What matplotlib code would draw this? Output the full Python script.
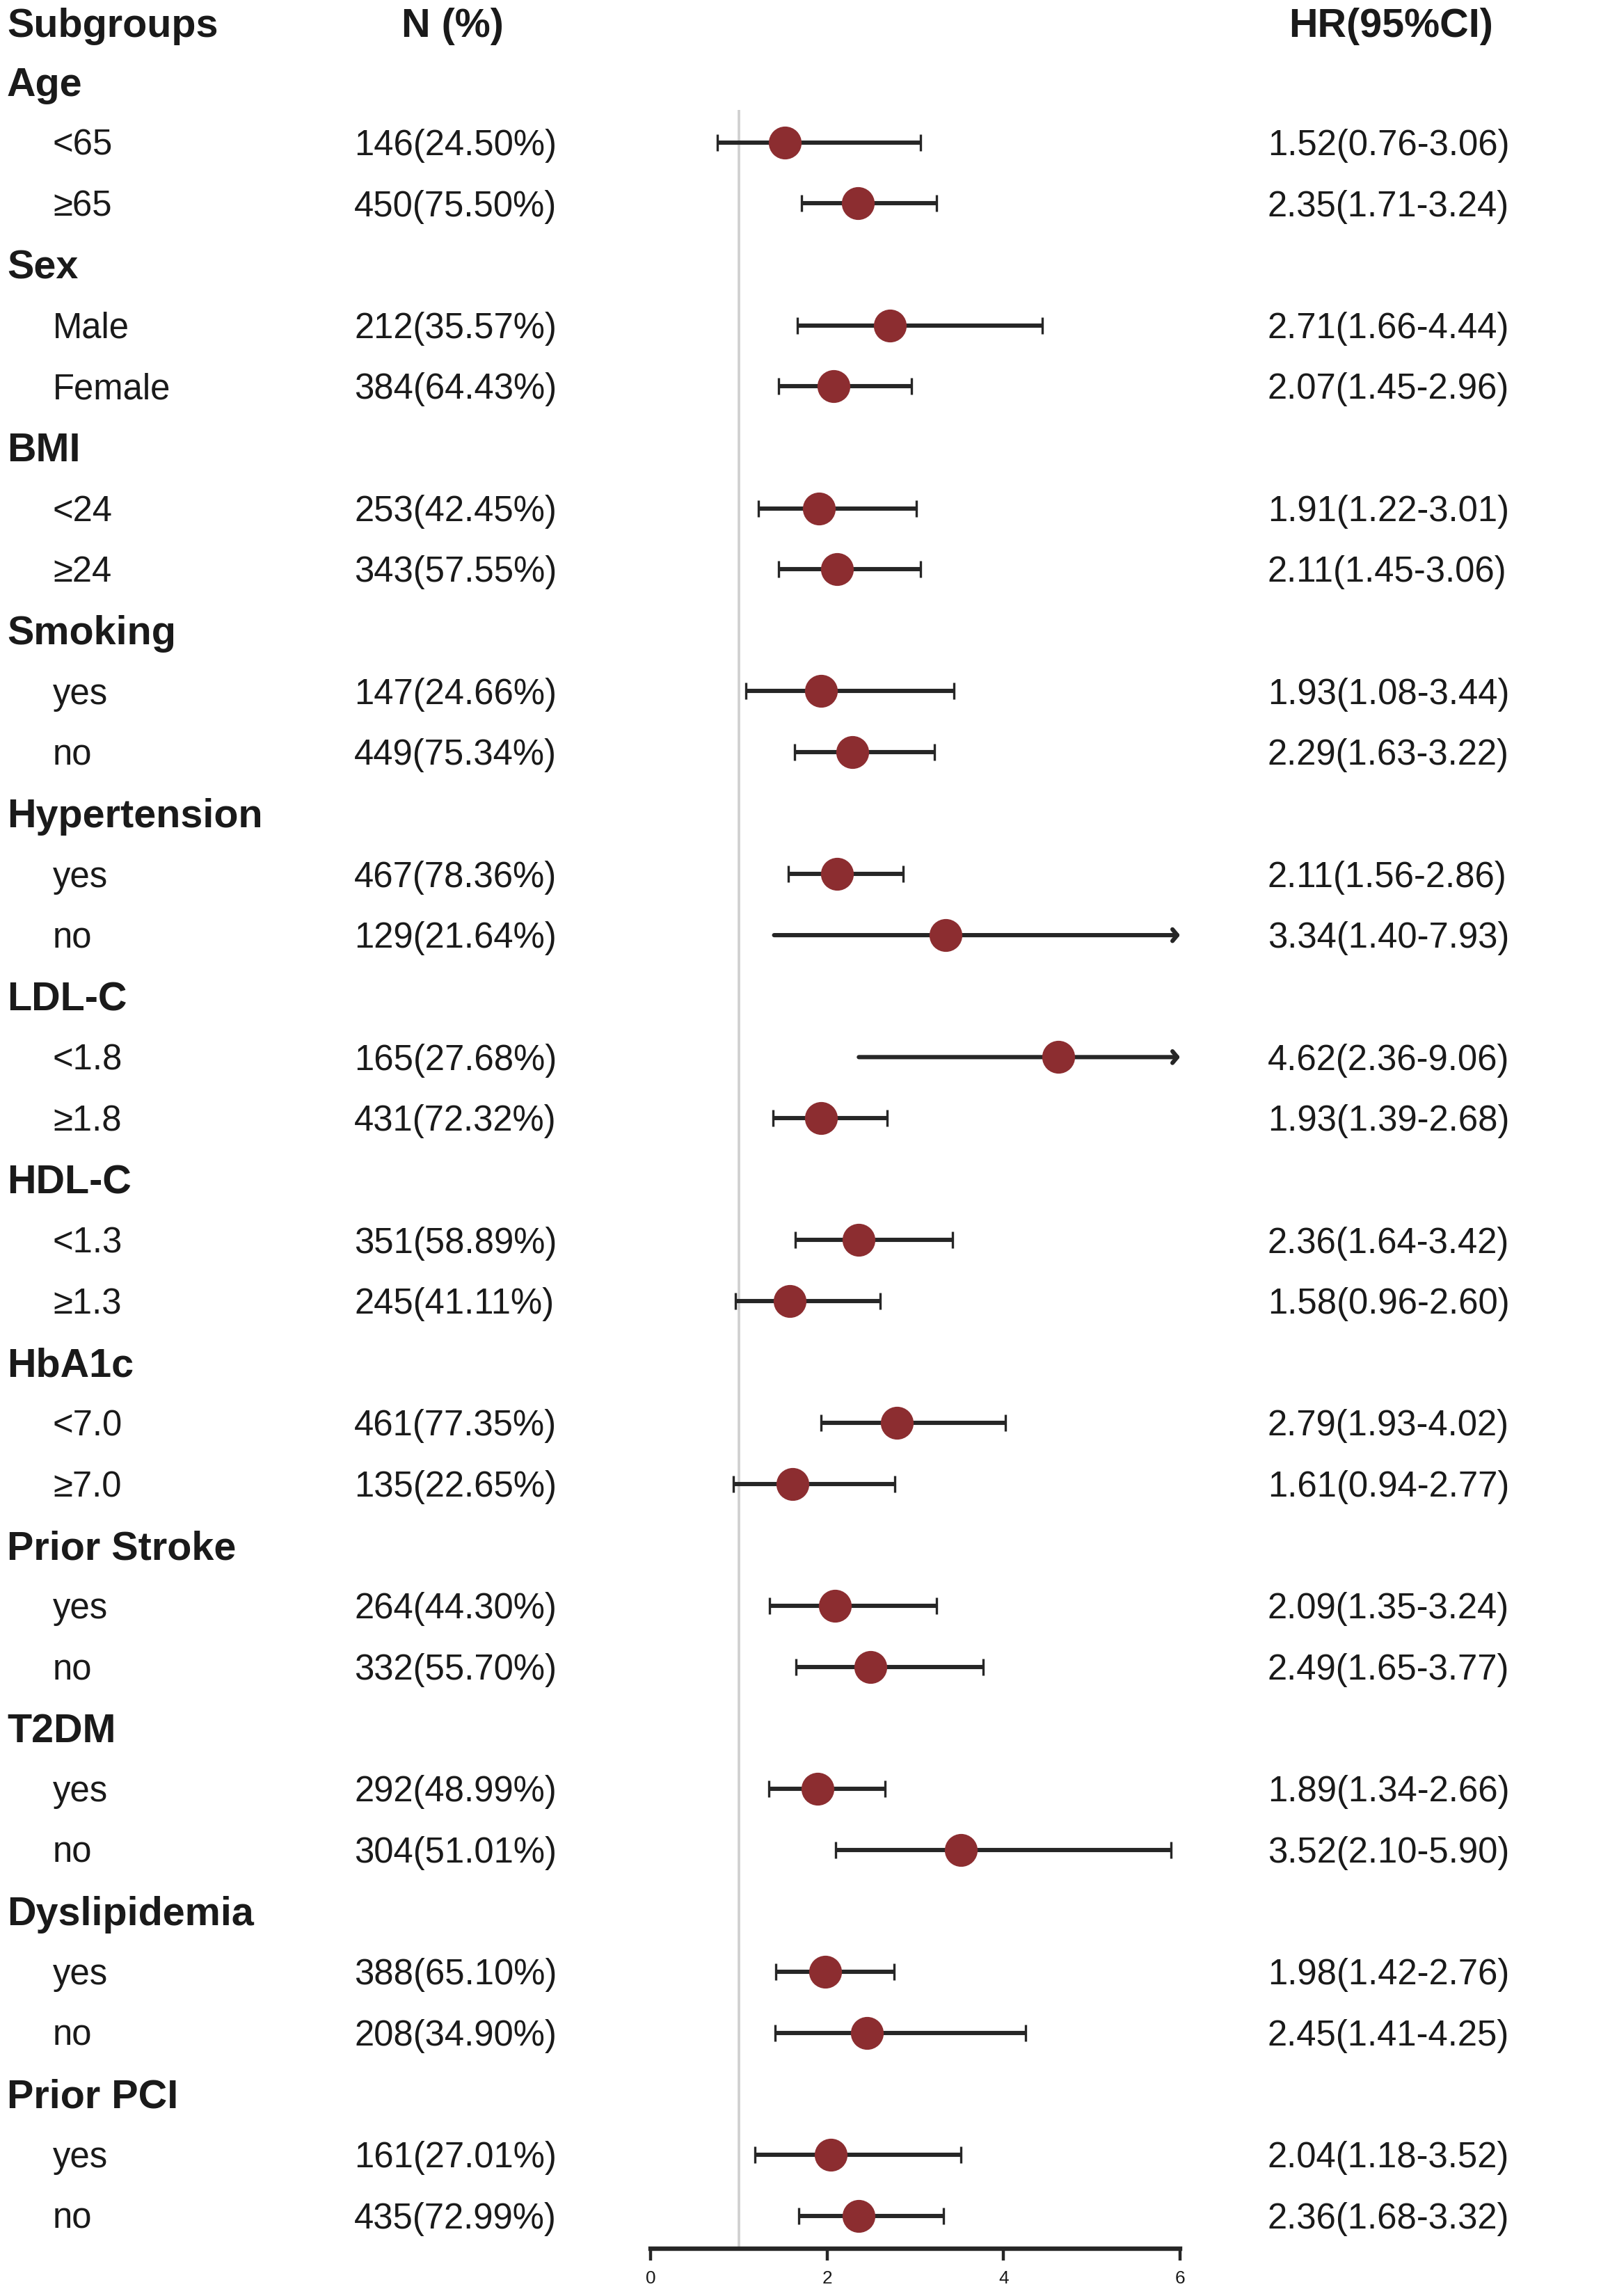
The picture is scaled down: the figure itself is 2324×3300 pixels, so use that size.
import matplotlib
matplotlib.use('Agg')
import matplotlib.pyplot as plt
import matplotlib.transforms as mtransforms

plt.rcParams['font.family'] = ['Liberation Sans', 'DejaVu Sans']

# data
groups = ['Age', 'Sex', 'BMI', 'Smoking', 'Hypertension', 'LDL-C', 'HDL-C',
          'HbA1c', 'Prior Stroke', 'T2DM', 'Dyslipidemia', 'Prior PCI']
levels = [['<65', '≥65'], ['Male', 'Female'], ['<24', '≥24'], ['yes', 'no'],
          ['yes', 'no'], ['<1.8', '≥1.8'], ['<1.3', '≥1.3'], ['<7.0', '≥7.0'],
          ['yes', 'no'], ['yes', 'no'], ['yes', 'no'], ['yes', 'no']]
n = [146, 450, 212, 384, 253, 343, 147, 449, 467, 129, 165, 431,
     351, 245, 461, 135, 264, 332, 292, 304, 388, 208, 161, 435]
pct = [24.50, 75.50, 35.57, 64.43, 42.45, 57.55, 24.66, 75.34, 78.36, 21.64,
       27.68, 72.32, 58.89, 41.11, 77.35, 22.65, 44.30, 55.70, 48.99, 51.01,
       65.10, 34.90, 27.01, 72.99]
hr = [1.52, 2.35, 2.71, 2.07, 1.91, 2.11, 1.93, 2.29, 2.11, 3.34, 4.62, 1.93,
      2.36, 1.58, 2.79, 1.61, 2.09, 2.49, 1.89, 3.52, 1.98, 2.45, 2.04, 2.36]
lo = [0.76, 1.71, 1.66, 1.45, 1.22, 1.45, 1.08, 1.63, 1.56, 1.40, 2.36, 1.39,
      1.64, 0.96, 1.93, 0.94, 1.35, 1.65, 1.34, 2.10, 1.42, 1.41, 1.18, 1.68]
hi = [3.06, 3.24, 4.44, 2.96, 3.01, 3.06, 3.44, 3.22, 2.86, 7.93, 9.06, 2.68,
      3.42, 2.60, 4.02, 2.77, 3.24, 3.77, 2.66, 5.90, 2.76, 4.25, 3.52, 3.32]
xticks = [0, 2, 4, 6]
xmax = 6

W, H = 2324, 3300
fig = plt.figure(figsize=(W / 200, H / 200), dpi=200)
ax = fig.add_axes([935 / W, 68 / H, 761 / W, 3232 / H])
ax.set_xlim(0, xmax)
ax.set_ylim(35.54, -1.335)
ax.patch.set_alpha(0)

txt = '#1a1a1a'
line_col = '#262626'
dot_col = '#8C2D30'
reg = 18.3
bold = 20.7

trans = mtransforms.blended_transform_factory(fig.transFigure, ax.transData)

def put(xpx, r, s, size, weight='normal', ha='left'):
    # baseline offset so the cap height is centred on the row
    off = 0.358 * size * 200 / 72 / 87.65
    ax.text(xpx / W, r + off, s, transform=trans, fontsize=size,
            fontweight=weight, ha=ha, va='baseline', color=txt, clip_on=False)

# header
put(10, -0.96, 'Subgroups', bold, 'bold')
put(650, -0.96, 'N (%)', bold, 'bold', ha='center')
put(1999, -0.96, 'HR(95%CI)', bold, 'bold', ha='center')

# reference line at HR = 1
ax.vlines(1, 0.47, 35.54, color='#cfcfcf', lw=1.3, zorder=1)

row = 0
k = 0
for g, labs in zip(groups, levels):
    put(10, row, g, bold, 'bold')
    row += 1
    for lab in labs:
        put(76, row, lab, reg)
        put(509, row, f'{n[k]}({pct[k]:.2f}%)', reg)
        put(1822, row, f'{hr[k]:.2f}({lo[k]:.2f}-{hi[k]:.2f})', reg)
        if hi[k] > xmax:
            ax.annotate('', xy=(xmax, row), xytext=(lo[k], row),
                        arrowprops=dict(arrowstyle='->,head_length=0.25,head_width=0.3',
                                        lw=2.2, color=line_col, shrinkA=0, shrinkB=0),
                        zorder=2)
        else:
            ax.errorbar(hr[k], row, xerr=[[hr[k] - lo[k]], [hi[k] - hr[k]]],
                        fmt='none', ecolor=line_col, elinewidth=2.2,
                        capsize=4.3, capthick=1.2, zorder=2)
        ax.plot(hr[k], row, 'o', ms=16, color=dot_col, mec=dot_col, zorder=3)
        row += 1
        k += 1

for sp in ['top', 'right', 'left']:
    ax.spines[sp].set_visible(False)
ax.spines['bottom'].set_linewidth(2.3)
ax.spines['bottom'].set_color(line_col)
ax.spines['bottom'].set_bounds(0, xmax)
ax.set_yticks([])
ax.set_xticks(xticks)
ax.tick_params(axis='x', length=6, width=1.6, color=line_col, labelsize=9.4,
               labelcolor=txt, pad=5)

fig.savefig('out.png', dpi=200)
